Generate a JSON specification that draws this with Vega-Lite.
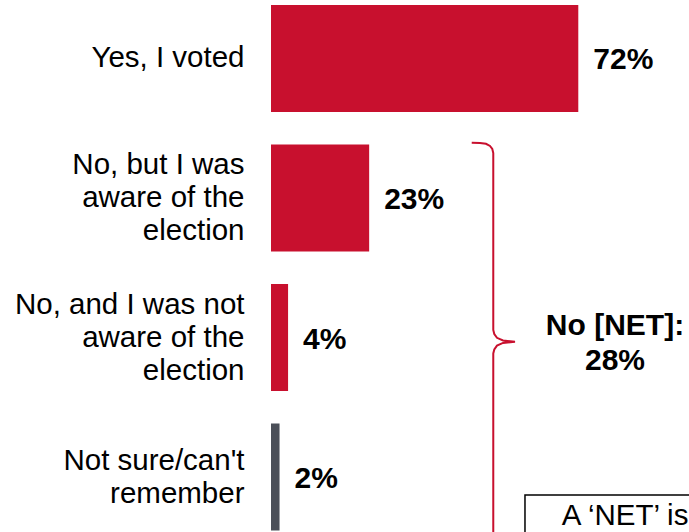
{
  "$schema": "https://vega.github.io/schema/vega-lite/v6.json",
  "autosize": {"type": "none"},
  "padding": {"left": 271, "top": 0, "right": 0, "bottom": 0},
  "width": 418,
  "height": 532,
  "background": "white",
  "config": {
    "view": {"stroke": null},
    "font": "Liberation Sans",
    "text": {"font": "Liberation Sans", "fontSize": 29.5, "color": "black"}
  },
  "layer": [
    {
      "data": {
        "values": [
          {"response": "Yes, I voted", "share": 0.72, "kind": "Definite"},
          {"response": "No, but I was\naware of the\nelection", "share": 0.23, "kind": "Definite"},
          {"response": "No, and I was not\naware of the\nelection", "share": 0.04, "kind": "Definite"},
          {"response": "Not sure/can't\nremember", "share": 0.02, "kind": "Unsure"}
        ]
      },
      "encoding": {
        "y": {
          "field": "response",
          "type": "nominal",
          "sort": null,
          "scale": {"range": [0, 535.5], "paddingInner": 0.233, "paddingOuter": 0.0358},
          "axis": {
            "title": null,
            "ticks": false,
            "domain": false,
            "labelExpr": "split(datum.label, '\\n')",
            "labelOffset": {"expr": "-(length(split(datum.label, '\\n')) - 1) * 16.5"},
            "labelFont": "Liberation Sans",
            "labelFontSize": 29.5,
            "labelColor": "black",
            "labelLineHeight": 33,
            "labelPadding": 27,
            "labelLimit": 0
          }
        },
        "x": {
          "field": "share",
          "type": "quantitative",
          "scale": {"domain": [0, 0.9794], "nice": false},
          "axis": null
        }
      },
      "layer": [
        {
          "mark": {"type": "bar"},
          "encoding": {
            "color": {
              "field": "kind",
              "type": "nominal",
              "scale": {"domain": ["Definite", "Unsure"], "range": ["#C8102E", "#4B4F58"]},
              "legend": null
            }
          }
        },
        {
          "mark": {"type": "text", "align": "left", "baseline": "middle", "dx": 15, "dy": 2, "fontWeight": "bold", "fontSize": 30},
          "encoding": {
            "text": {"field": "share", "type": "quantitative", "format": ".0%"}
          }
        }
      ]
    },
    {
      "data": {
        "values": [
          {"bx": 0.4703, "by": 0.6036, "i": 0},
          {"bx": 0.4897, "by": 0.6050, "i": 1},
          {"bx": 0.5037, "by": 0.6115, "i": 2},
          {"bx": 0.5131, "by": 0.6272, "i": 3},
          {"bx": 0.5185, "by": 0.6487, "i": 4},
          {"bx": 0.5208, "by": 0.6774, "i": 5},
          {"bx": 0.5208, "by": 1.9462, "i": 6},
          {"bx": 0.5232, "by": 1.9749, "i": 7},
          {"bx": 0.5295, "by": 2.0022, "i": 8},
          {"bx": 0.5436, "by": 2.0215, "i": 9},
          {"bx": 0.5717, "by": 2.0301, "i": 10},
          {"bx": 0.5436, "by": 2.0387, "i": 11},
          {"bx": 0.5295, "by": 2.0581, "i": 12},
          {"bx": 0.5232, "by": 2.0853, "i": 13},
          {"bx": 0.5208, "by": 2.1140, "i": 14},
          {"bx": 0.5208, "by": 3.6, "i": 15}
        ]
      },
      "mark": {"type": "line", "color": "#C8102E", "strokeWidth": 2, "clip": true},
      "encoding": {
        "x": {"field": "bx", "type": "quantitative", "scale": {"domain": [0, 0.9794], "nice": false}, "axis": null},
        "y": {"field": "by", "type": "quantitative", "scale": {"domain": [-0.41935, 3.41935], "range": [0, 535.5], "nice": false, "zero": false}, "axis": null},
        "order": {"field": "i", "type": "quantitative"}
      }
    },
    {
      "data": {"values": [{"tx": 0.806, "ty": 1.9821, "note": "No [NET]:\n28%"}]},
      "mark": {"type": "text", "align": "center", "baseline": "alphabetic", "fontWeight": "bold", "fontSize": 30, "lineBreak": "\n", "lineHeight": 35},
      "encoding": {
        "x": {"field": "tx", "type": "quantitative", "scale": {"domain": [0, 0.9794], "nice": false}, "axis": null},
        "y": {"field": "ty", "type": "quantitative", "scale": {"domain": [-0.41935, 3.41935], "range": [0, 535.5], "nice": false, "zero": false}, "axis": null},
        "text": {"field": "note", "type": "nominal"}
      }
    },
    {
      "data": {"values": [{"x1": 0.5951, "x2": 1.05, "y1": 3.129, "y2": 3.6}]},
      "mark": {"type": "rect", "fill": "white", "stroke": "black", "strokeWidth": 1.5, "clip": true},
      "encoding": {
        "x": {"field": "x1", "type": "quantitative", "scale": {"domain": [0, 0.9794], "nice": false}, "axis": null},
        "x2": {"field": "x2"},
        "y": {"field": "y1", "type": "quantitative", "scale": {"domain": [-0.41935, 3.41935], "range": [0, 535.5], "nice": false, "zero": false}, "axis": null},
        "y2": {"field": "y2"}
      }
    },
    {
      "data": {"values": [{"tx": 0.681, "ty": 3.3441, "note": "A ‘NET’ is"}]},
      "mark": {"type": "text", "align": "left", "baseline": "alphabetic", "fontSize": 29.5},
      "encoding": {
        "x": {"field": "tx", "type": "quantitative", "scale": {"domain": [0, 0.9794], "nice": false}, "axis": null},
        "y": {"field": "ty", "type": "quantitative", "scale": {"domain": [-0.41935, 3.41935], "range": [0, 535.5], "nice": false, "zero": false}, "axis": null},
        "text": {"field": "note", "type": "nominal"}
      }
    }
  ],
  "resolve": {"scale": {"y": "independent"}}
}
